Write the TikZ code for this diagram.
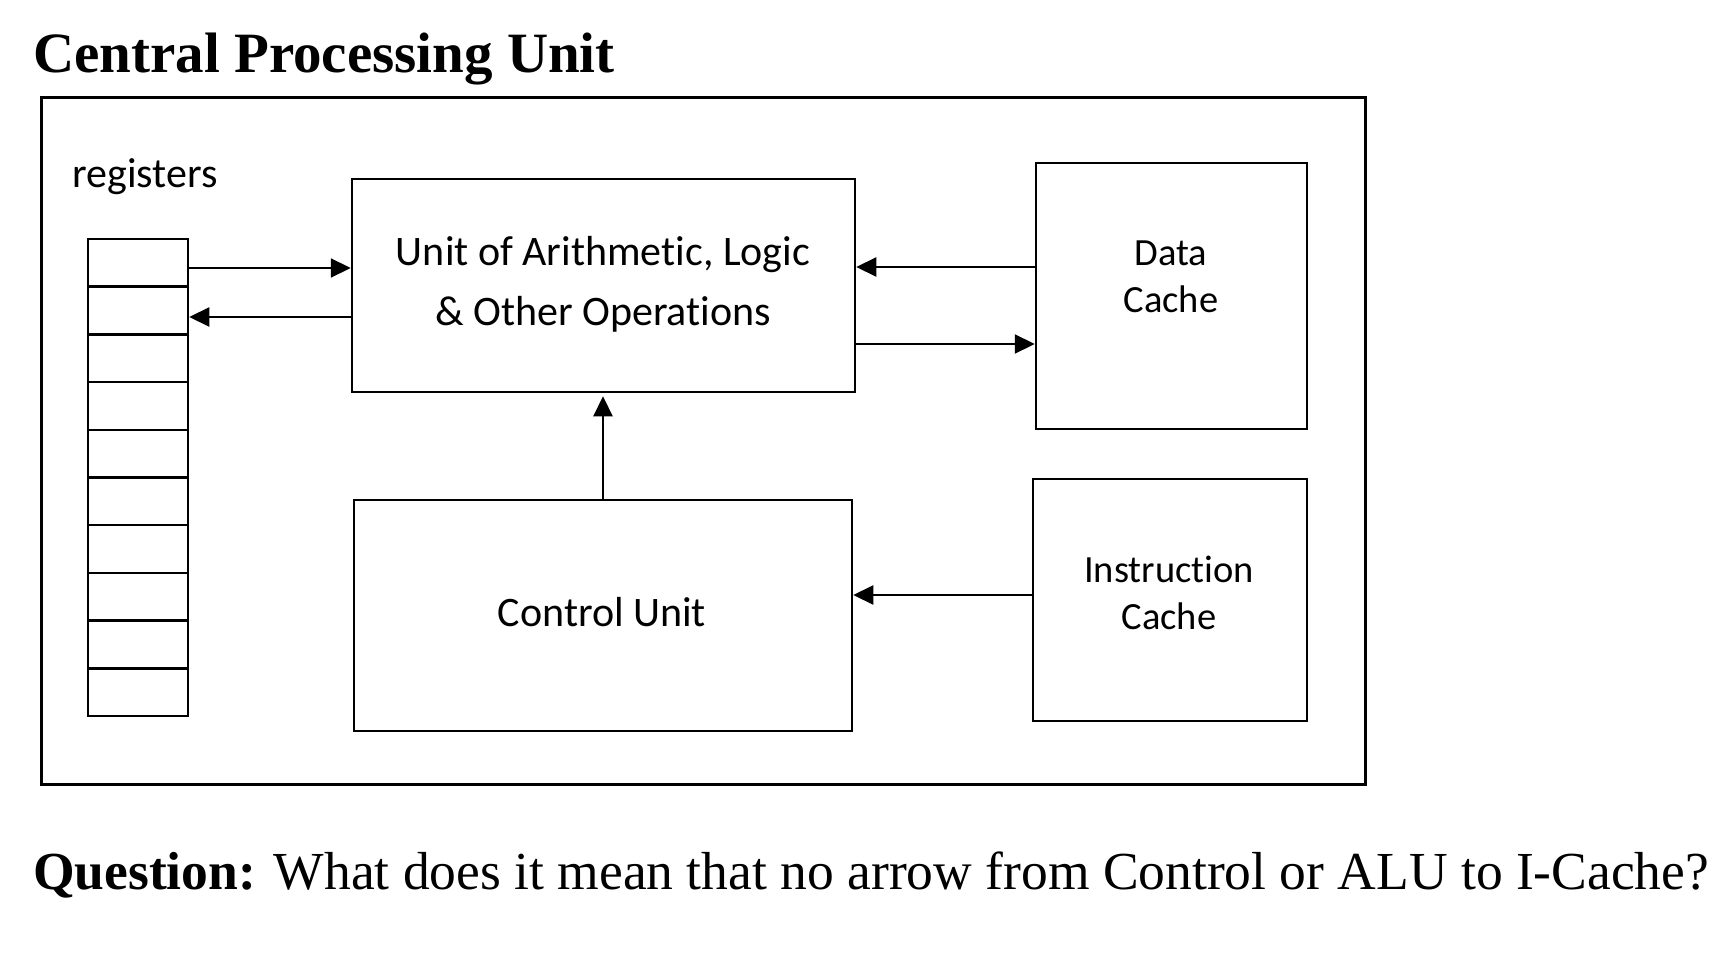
\documentclass[tikz,border=0pt]{standalone}
\usepackage{fontspec}
\setmainfont{Liberation Serif}
\newfontfamily\calfont[Ligatures={NoCommon,NoContextual,NoRare}]{Carlito}
\usetikzlibrary{arrows.meta}
\tikzset{
  box/.style={draw, line width=2.5pt, rectangle, inner sep=0pt},
  regcell/.style={draw, line width=2.5pt, rectangle, inner sep=0pt, minimum width=100pt, minimum height=47.7pt},
  arr/.style={line width=2.2pt, -{Triangle[length=20pt,width=19pt]}},
  bigtxt/.style={font=\calfont\fontsize{42}{60}\selectfont, align=center, inner sep=0pt},
  smalltxt/.style={font=\calfont\fontsize{38.5}{47}\selectfont, align=center, inner sep=0pt},
}
\begin{document}
\begin{tikzpicture}[x=1pt,y=-1pt]
\useasboundingbox (0,0) rectangle (1732,960);
% title
\node[anchor=base west, inner sep=0pt, font=\bfseries\fontsize{57}{68}\selectfont] (title) at (33,73) {Central Processing Unit};
% outer box
\node[draw, line width=3pt, rectangle, inner sep=0pt, minimum width=1324pt, minimum height=686pt] (cpu) at (703,441) {};
% registers
\node[anchor=base west, inner sep=0pt, font=\calfont\fontsize{42}{50}\selectfont] (reglabel) at (72,188) {registers};
\foreach \i in {1,...,10} {
  \node[regcell] (r\i) at (138, {239 + 47.7*(\i-0.5)}) {};
}
% ALU
\node[box, minimum width=503pt, minimum height=213pt] (alu) at (603.5,285.5) {};
\node[bigtxt] (alutext) at (603,284) {Unit of Arithmet\kern0pt ic, Logic\\\& Other Operations};
% Data cache
\node[box, minimum width=271pt, minimum height=266pt] (dc) at (1171.5,296) {};
\node[smalltxt] (dctext) at (1171,277) {Data\\Cache};
% Control unit
\node[box, minimum width=498pt, minimum height=231pt] (cu) at (603,615.5) {};
\node[bigtxt] (cutext) at (602,612) {Control Unit};
% Instruction cache
\node[box, minimum width=274pt, minimum height=242pt] (ic) at (1170,600) {};
\node[smalltxt] (ictext) at (1169,593) {Instruct\kern0pt ion\\Cache};
% arrows
\draw[arr] (r1.east |- 0,268) -- (alu.west |- 0,268);
\draw[arr] (alu.west |- 0,317) -- (r2.east |- 0,317);
\draw[arr] (dc.west |- 0,267) -- (alu.east |- 0,267);
\draw[arr] (alu.east |- 0,344) -- (dc.west |- 0,344);
\draw[arr] (cu.north) -- ([yshift=-3pt]cu.north |- alu.south);
\draw[arr] (ic.west |- 0,595) -- (cu.east |- 0,595);
% question
\node[anchor=base west, inner sep=0pt, font=\fontsize{53.5}{64}\selectfont] (question) at (33,889) {\textbf{Question:} What does it mean that no arrow from Control or ALU to I-Cache?};
\end{tikzpicture}
\end{document}
